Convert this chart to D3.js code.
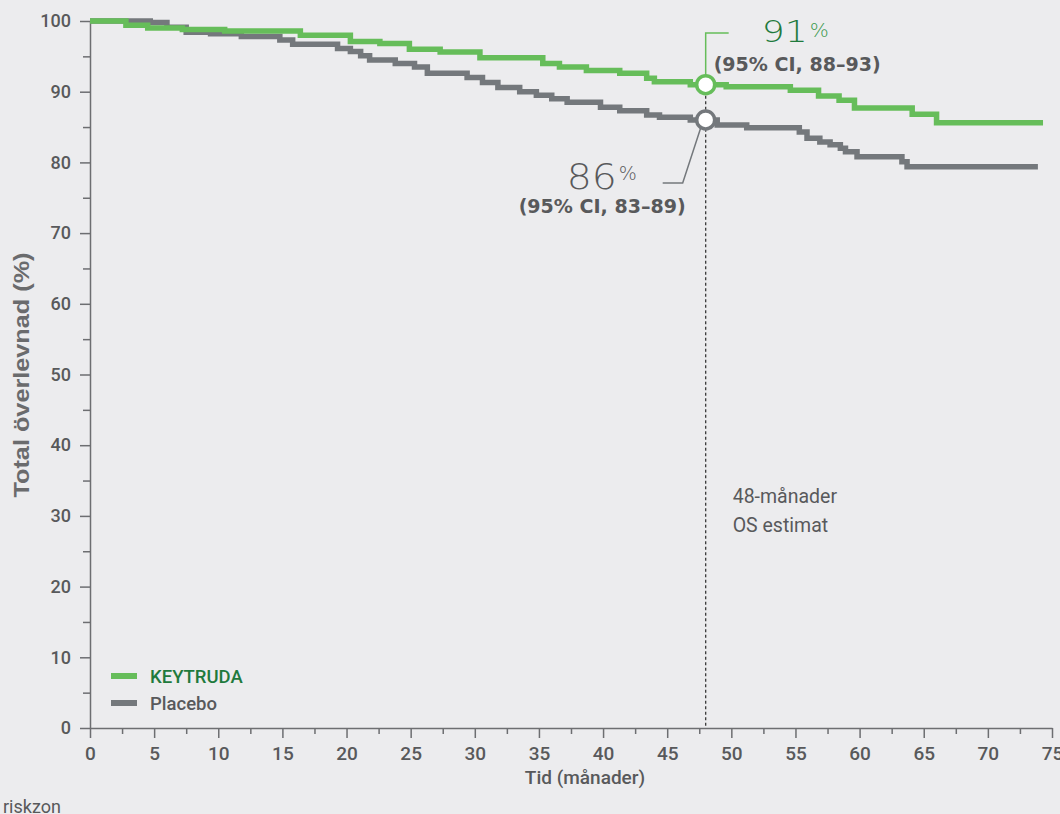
<!DOCTYPE html>
<html><head><meta charset="utf-8">
<script src="https://cdn.jsdelivr.net/npm/d3@7"></script>
<style>html,body{margin:0;padding:0;background:#ececee;}svg{display:block;}</style>
</head><body>
<svg id="chart" width="1060" height="814"></svg>
<script>
// ---- data ----
const xTickValues = [0,5,10,15,20,25,30,35,40,45,50,55,60,65,70,75];
const yTickValues = [0,10,20,30,40,50,60,70,80,90,100];
const seriesNames = ["KEYTRUDA","Placebo"];

const keytrudaTime = [0,2.8,4.5,7.2,10.5,16.4,20.3,22.6,24.9,27.3,30.4,35.3,36.6,38.7,41.3,43.4,44.0,46.8,49.6,54.6,56.8,58.4,59.6,64.1,66.0,74.3];
const keytrudaSurv = [100,99.4,99.0,98.8,98.6,98.0,97.1,96.8,96.0,95.6,94.8,94.0,93.5,93.0,92.6,91.9,91.4,91.0,90.7,90.2,89.4,88.8,87.7,86.8,85.6,85.6];

const placeboTime = [0,4.7,6.0,7.5,9.4,11.8,14.8,15.8,19.3,20.3,21.1,21.8,23.8,25.3,26.3,29.4,30.6,31.8,33.5,34.8,36.0,37.2,39.8,41.3,43.4,44.4,46.8,48.9,51.2,55.3,55.9,56.9,57.7,58.5,58.9,59.8,63.3,63.7,73.9];
const placeboSurv = [100,99.8,99.1,98.4,98.2,97.8,97.3,96.7,96.1,95.7,95.1,94.5,94.0,93.5,92.6,92.0,91.3,90.6,90.0,89.5,89.0,88.5,87.8,87.3,86.7,86.4,86.0,85.3,84.9,84.3,83.4,82.9,82.5,82.0,81.5,80.8,80.1,79.4,79.4];

const estimateMonth = 48;
const keytrudaEstimate = 91;
const placeboEstimate = 86;
const keytrudaCI = "(95% CI, 88–93)";
const placeboCI = "(95% CI, 83–89)";

// ---- setup ----
const svg = d3.select("#chart");
const green = "#66bd5a", greenDark = "#1f7a3d", gray = "#74787c", textGray = "#58595b", axisGray = "#6d6e71";
const x = d3.scaleLinear().domain([0,75]).range([90,1052]);
const y = d3.scaleLinear().domain([0,100]).range([728,21]);

// axes
const yAxis = svg.append("g").attr("transform",`translate(${x(0)},0)`)
  .call(d3.axisLeft(y).tickValues(yTickValues).tickSize(10).tickPadding(9).tickSizeOuter(0));
const yMinor = svg.append("g").attr("transform",`translate(${x(0)},0)`)
  .call(d3.axisLeft(y).tickValues(d3.range(5,100,10)).tickSize(7).tickFormat(""));
const xAxis = svg.append("g").attr("transform",`translate(0,${y(0)})`)
  .call(d3.axisBottom(x).tickValues(xTickValues).tickSize(10).tickPadding(9).tickSizeOuter(0));
const xMinor = svg.append("g").attr("transform",`translate(0,${y(0)})`)
  .call(d3.axisBottom(x).tickValues(d3.range(2.5,75,5)).tickSize(6).tickFormat(""));
[yAxis,yMinor,xAxis,xMinor].forEach(g=>{
  g.selectAll("path.domain").attr("stroke",axisGray).attr("stroke-width",1.5);
  g.selectAll(".tick line").attr("stroke",axisGray).attr("stroke-width",1.5);
});
yMinor.select("path.domain").remove();
xMinor.select("path.domain").remove();
yAxis.selectAll(".tick text").attr("fill",textGray).attr("font-family","Roboto, 'Liberation Sans', sans-serif").attr("font-size",18).attr("font-weight",500);
xAxis.selectAll(".tick text").attr("fill",textGray).attr("font-family","Roboto, 'Liberation Sans', sans-serif").attr("font-size",19).attr("font-weight",500);

// curves
const line = d3.line().x(d=>x(d[0])).y(d=>y(d[1])).curve(d3.curveStepAfter);
const placeboData = placeboTime.map((t,i)=>[t,placeboSurv[i]]);
const keytrudaData = keytrudaTime.map((t,i)=>[t,keytrudaSurv[i]]);
svg.append("path").datum(placeboData).attr("d",line).attr("fill","none").attr("stroke",gray).attr("stroke-width",5.5);
svg.append("path").datum(keytrudaData).attr("d",line).attr("fill","none").attr("stroke",green).attr("stroke-width",5.5);

// estimate vertical dotted line
const ex = x(estimateMonth), eyK = y(keytrudaEstimate), eyP = y(placeboEstimate);
svg.append("line").attr("x1",ex).attr("x2",ex).attr("y1",eyK).attr("y2",y(0))
  .attr("stroke","#3a3a3a").attr("stroke-width",1.3).attr("stroke-dasharray","3,2.5");

// leaders
svg.append("path").attr("d",`M${ex},${eyK-9} V${33} H${ex+23}`).attr("fill","none").attr("stroke",green).attr("stroke-width",1.5);
svg.append("path").attr("d",`M${ex-5},${eyP+8} L${ex-23},${eyP+63} H${ex-43}`).attr("fill","none").attr("stroke",gray).attr("stroke-width",1.5);

// circles
svg.append("circle").attr("cx",ex).attr("cy",eyK).attr("r",9).attr("fill","#fff").attr("stroke",green).attr("stroke-width",3.5);
svg.append("circle").attr("cx",ex).attr("cy",eyP).attr("r",9).attr("fill","#fff").attr("stroke",gray).attr("stroke-width",3.5);

// big numbers
const bigFont = "'DejaVu Sans', sans-serif";
svg.append("text").attr("x",ex+56).attr("y",42).text(keytrudaEstimate)
  .attr("font-family",bigFont).attr("font-weight",200).attr("font-size",30).attr("fill",greenDark)
  .attr("textLength",46).attr("lengthAdjust","spacingAndGlyphs");
svg.append("text").attr("x",ex+104).attr("y",37).text("%")
  .attr("font-family",bigFont).attr("font-weight",200).attr("font-size",20).attr("fill","#3c9a4e");
svg.append("text").attr("x",ex+8).attr("y",71).text(keytrudaCI)
  .attr("font-family",bigFont).attr("font-weight",700).attr("font-size",20).attr("fill",textGray)
  .attr("textLength",167).attr("lengthAdjust","spacingAndGlyphs");

svg.append("text").attr("x",ex-139).attr("y",189).text(placeboEstimate)
  .attr("font-family",bigFont).attr("font-weight",200).attr("font-size",36).attr("fill",textGray)
  .attr("textLength",50).attr("lengthAdjust","spacingAndGlyphs");
svg.append("text").attr("x",ex-87).attr("y",180).text("%")
  .attr("font-family",bigFont).attr("font-weight",200).attr("font-size",19).attr("fill",textGray);
svg.append("text").attr("x",ex-187).attr("y",213).text(placeboCI)
  .attr("font-family",bigFont).attr("font-weight",700).attr("font-size",20).attr("fill",textGray)
  .attr("textLength",167).attr("lengthAdjust","spacingAndGlyphs");

// estimate label
const lab = svg.append("text").attr("font-family","Roboto, 'Liberation Sans', sans-serif").attr("font-size",19.5).attr("fill",textGray);
lab.append("tspan").attr("x",ex+27).attr("y",503).text("48-månader");
lab.append("tspan").attr("x",ex+27).attr("y",532).text("OS estimat");

// legend
const legendColors = [green, gray];
const legendTextColors = [greenDark, textGray];
seriesNames.forEach((n,i)=>{
  const ly = 676 + i*27;
  svg.append("line").attr("x1",111).attr("x2",137).attr("y1",ly).attr("y2",ly).attr("stroke",legendColors[i]).attr("stroke-width",6);
  svg.append("text").attr("x",150).attr("y",ly+7).text(n)
    .attr("font-family","Roboto, 'Liberation Sans', sans-serif").attr("font-weight",500).attr("font-size",18.5).attr("fill",legendTextColors[i]);
});

// axis titles
svg.append("text").attr("transform",`translate(29,375) rotate(-90)`).attr("text-anchor","middle")
  .text("Total överlevnad (%)").attr("font-family","'Liberation Sans', Arial, sans-serif").attr("font-weight",700)
  .attr("font-size",22).attr("fill","#6a6b6d").attr("textLength",245).attr("lengthAdjust","spacingAndGlyphs");
svg.append("text").attr("x",585).attr("y",784).attr("text-anchor","middle").text("Tid (månader)")
  .attr("font-family","Roboto, 'Liberation Sans', sans-serif").attr("font-weight",500).attr("font-size",19).attr("fill",textGray);
svg.append("text").attr("x",3).attr("y",813).text("riskzon")
  .attr("font-family","Roboto, 'Liberation Sans', sans-serif").attr("font-size",18).attr("fill",textGray);
</script>
</body></html>
